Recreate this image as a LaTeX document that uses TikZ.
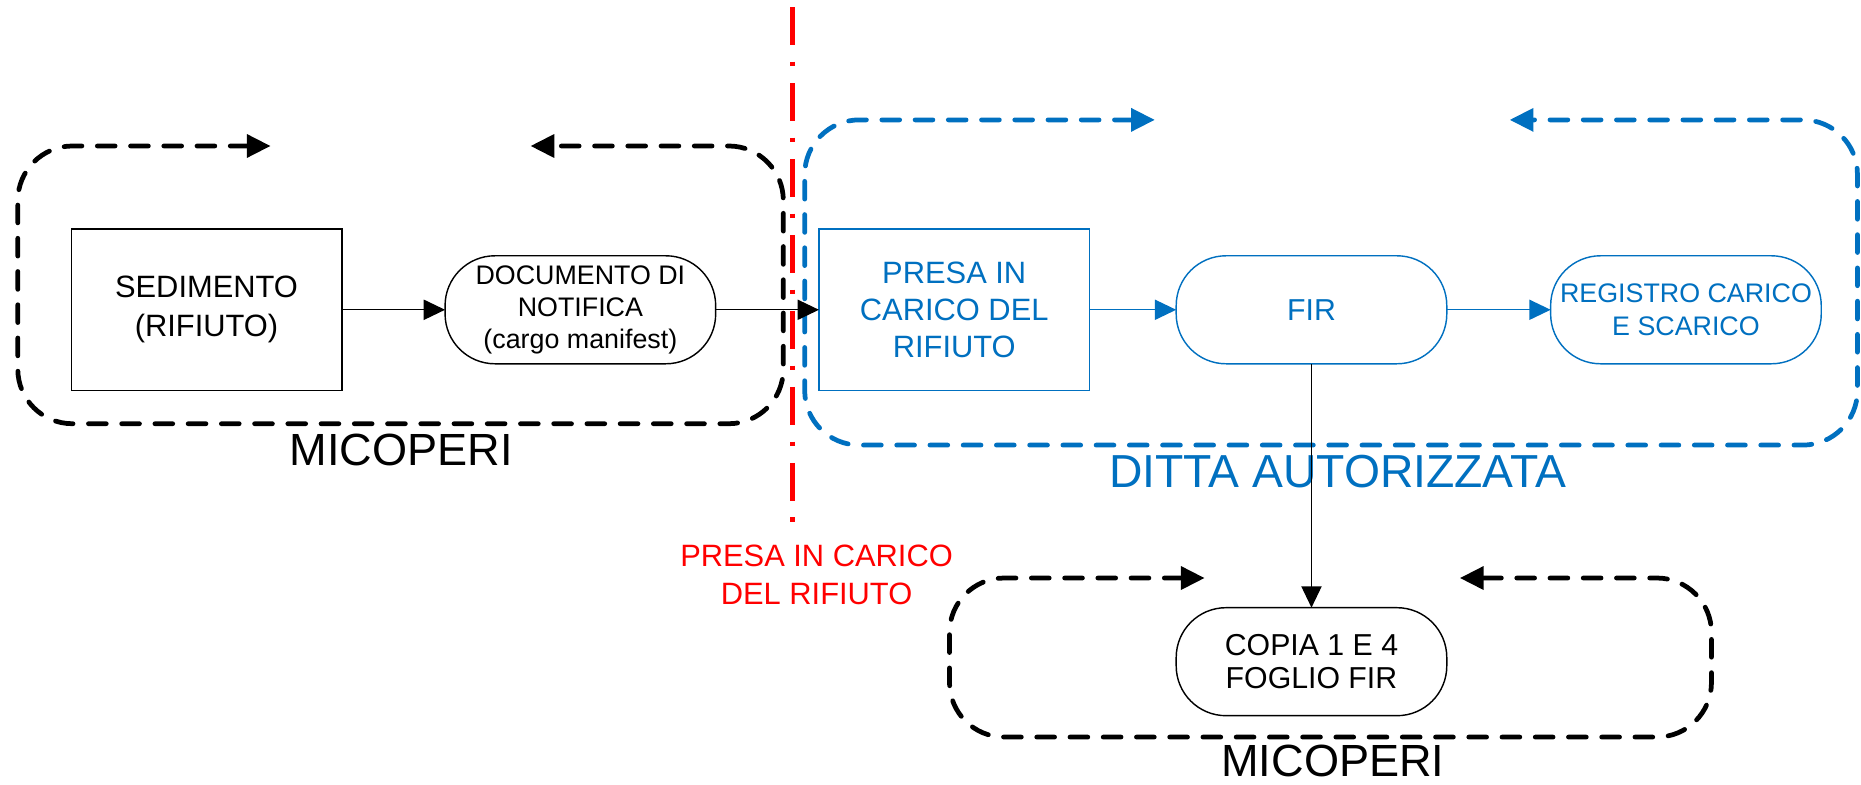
\documentclass[tikz,border=0pt]{standalone}
\usepackage{fontspec}
\setmainfont{Liberation Sans}
\usetikzlibrary{arrows.meta}
\definecolor{mblue}{RGB}{0,112,192}
\definecolor{mred}{RGB}{255,0,0}
\begin{document}
\begin{tikzpicture}[x=0.5pt,y=-0.5pt,
  grouploop/.style={line width=2pt, line cap=round, dash pattern=on 7.5pt off 6.5pt, rounded corners=23pt,
    {Triangle[length=10pt,width=9.5pt]}-{Triangle[length=10pt,width=9.5pt]}},
  box/.style={draw, line width=0.6pt, minimum width=114pt, minimum height=68pt,
    inner sep=0pt, outer sep=0pt, align=center},
  pill/.style={draw, line width=0.6pt, minimum width=114pt, minimum height=45.5pt,
    rounded corners=21pt, inner sep=0pt, outer sep=0pt, align=center},
  conn/.style={line width=0.6pt, -{Triangle[length=9pt,width=8.5pt]}},
  big/.style={font=\fontsize{19pt}{23pt}\selectfont, inner sep=0pt},
]
\fill[white] (0,0) rectangle (1568,660.6);
\useasboundingbox (0,0) rectangle (1568,660.6);

% group loops
\coordinate (lA) at (228,123);
\coordinate (lB) at (447,123);
\draw[grouploop] (lA) -- (15,123) -- (15,357) -- (660,357) -- (660,123) -- (lB);

\coordinate (bA) at (973,101);
\coordinate (bB) at (1272,101);
\draw[grouploop, mblue] (bA) -- (678,101) -- (678,375) -- (1565,375) -- (1565,101) -- (bB);

\coordinate (cA) at (1015,487);
\coordinate (cB) at (1230,487);
\draw[grouploop] (cA) -- (800,487) -- (800,621) -- (1442,621) -- (1442,487) -- (cB);

% separator
\coordinate (sepTop) at (668,6);
\coordinate (sepBot) at (668,453);
\draw[mred, line width=2pt, dash pattern=on 16pt off 7pt on 2pt off 7pt] (sepTop) -- (sepBot);

% nodes
\node[box, font=\fontsize{13pt}{16.5pt}\selectfont] (sed) at (174,261) {SEDIMENTO\\(RIFIUTO)};
\node[pill, fill=white, font=\fontsize{11.3pt}{13.5pt}\selectfont] (doc) at (489,261) {DOCUMENTO DI\\NOTIFICA\\(cargo manifest)};
\node[box, draw=mblue, text=mblue, fill=white, font=\fontsize{13pt}{15.5pt}\selectfont] (presa) at (804,261) {PRESA IN\\CARICO DEL\\RIFIUTO};
\node[pill, draw=mblue, text=mblue, font=\fontsize{12.75pt}{15pt}\selectfont] (fir) at (1105,261) {FIR};
\node[pill, draw=mblue, text=mblue, font=\fontsize{11.3pt}{13.5pt}\selectfont] (reg) at (1420.5,261) {REGISTRO CARICO\\E SCARICO};
\node[pill, font=\fontsize{12.75pt}{14pt}\selectfont] (copia) at (1105,557.5) {COPIA 1 E 4\\FOGLIO FIR};

% labels
\node[big] (mic1) at (338,379) {MICOPERI};
\node[big, mblue, font=\fontsize{19.5pt}{23pt}\selectfont] (ditta) at (1127,397) {DITTA AUTORIZZATA};
\node[mred, align=center, inner sep=0pt, font=\fontsize{13pt}{16pt}\selectfont] (sepl) at (688,484) {PRESA IN CARICO\\DEL RIFIUTO};
\node[big] (mic2) at (1123,641) {MICOPERI};

% connectors
\draw[conn] (sed) -- (doc);
\draw[conn] (doc) -- (presa);
\draw[conn, mblue] (presa) -- (fir);
\draw[conn, mblue] (fir) -- (reg);
\draw[conn] (fir) -- (copia);
\end{tikzpicture}
\end{document}
